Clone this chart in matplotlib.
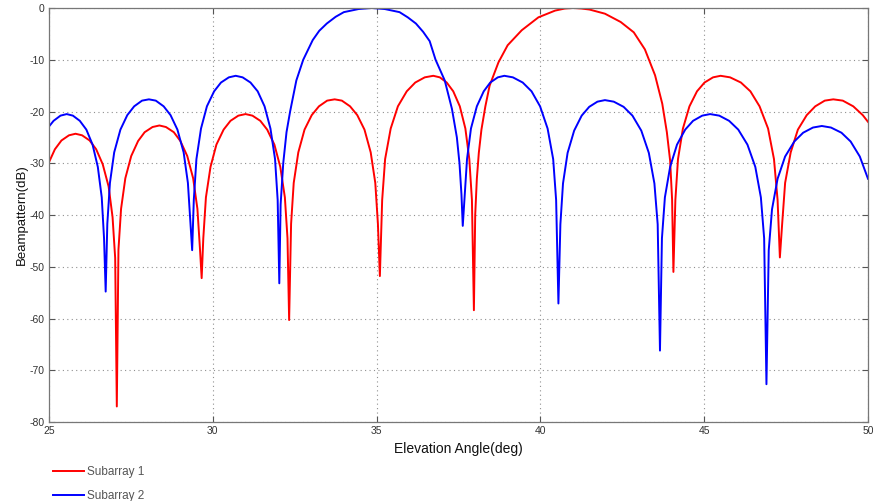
import matplotlib
matplotlib.use("Agg")
import matplotlib.pyplot as plt

plt.rcParams['font.family'] = ['Liberation Sans', 'DejaVu Sans']

# ---- data ----
sub1_angle = [
    25.00, 25.18, 25.38, 25.61, 25.81, 26.01, 26.24, 26.44, 26.64, 26.82, 26.94, 27.02, 27.07,
    27.12, 27.20, 27.33, 27.51, 27.72, 27.92, 28.16, 28.37, 28.57, 28.81, 29.01, 29.22, 29.40, 29.53, 29.61, 29.66,
    29.71, 29.79, 29.93, 30.11, 30.33, 30.54, 30.78, 31.00, 31.21, 31.45, 31.66, 31.88, 32.06, 32.20, 32.28, 32.33,
    32.39, 32.47, 32.61, 32.80, 33.02, 33.24, 33.49, 33.72, 33.94, 34.19, 34.41, 34.63, 34.82, 34.96, 35.04, 35.10,
    35.17, 35.26, 35.43, 35.65, 35.92, 36.18, 36.47, 36.73, 36.93, 37.14, 37.34, 37.54, 37.71, 37.83, 37.91, 37.97,
    38.01, 38.06, 38.12, 38.20, 38.32, 38.45, 38.72, 39.00, 39.43, 39.94, 40.45, 40.75, 41.00, 41.25, 41.50, 41.97,
    42.45, 42.85, 43.19, 43.50, 43.72, 43.86, 43.96, 44.02, 44.06,
    44.12, 44.20, 44.35, 44.55, 44.78, 45.01, 45.27, 45.50, 45.79, 46.12, 46.41, 46.69, 46.95, 47.13, 47.24, 47.31,
    47.38, 47.47, 47.64, 47.86, 48.13, 48.39, 48.68, 48.94, 49.23, 49.55, 49.84, 50.00,
]
sub1_db = [
    -29.8, -27.3, -25.6, -24.6, -24.3, -24.6, -25.6, -27.3, -30.2, -34.5, -40.4, -48.3, -77.0,
    -46.7, -38.8, -32.9, -28.6, -25.7, -24.0, -23.0, -22.7, -23.0, -24.0, -25.7, -28.6, -32.9, -38.8, -46.7, -52.2,
    -44.5, -36.6, -30.7, -26.4, -23.5, -21.8, -20.8, -20.5, -20.8, -21.8, -23.5, -26.4, -30.7, -36.6, -44.5, -60.3,
    -41.7, -33.8, -27.9, -23.5, -20.7, -19.0, -17.9, -17.65, -17.9, -19.0, -20.7, -23.5, -27.9, -33.8, -41.7, -51.8,
    -37.1, -29.2, -23.3, -19.0, -16.1, -14.4, -13.4, -13.1, -13.4, -14.4, -16.1, -19.0, -23.3, -29.2, -37.1, -58.4,
    -40.0, -33.0, -28.0, -23.5, -19.0, -15.0, -10.5, -7.2, -4.3, -1.8, -0.5, -0.1, 0.0, -0.1, -0.3, -1.1,
    -2.7, -4.7, -8.0, -13.0, -18.5, -24.0, -29.5, -37.0, -51.0,
    -37.1, -29.2, -23.3, -19.0, -16.1, -14.4, -13.4, -13.1, -13.4, -14.4, -16.1, -19.0, -23.3, -29.2, -37.1, -48.2,
    -41.7, -33.8, -27.9, -23.5, -20.7, -19.0, -17.9, -17.65, -17.9, -19.0, -20.7, -22.0,
]

sub2_angle = [
    25.00, 25.14, 25.35, 25.54, 25.73, 25.94, 26.14, 26.33, 26.49, 26.61, 26.68, 26.73,
    26.78, 26.86, 26.99, 27.18, 27.39, 27.60, 27.84, 28.05, 28.26, 28.50, 28.71, 28.92, 29.11, 29.24, 29.32, 29.37,
    29.42, 29.50, 29.64, 29.82, 30.04, 30.25, 30.49, 30.70, 30.91, 31.15, 31.37, 31.58, 31.76, 31.90, 31.98, 32.03,
    32.07, 32.15, 32.25, 32.36, 32.55, 32.76, 33.05, 33.25, 33.48, 33.75, 34.00, 34.45, 34.85, 35.25, 35.70, 35.95,
    36.20, 36.42, 36.62, 36.80, 37.08, 37.30, 37.45, 37.53, 37.59, 37.63,
    37.68, 37.76, 37.88, 38.06, 38.27, 38.47, 38.70, 38.90, 39.16, 39.46, 39.73, 39.99, 40.22, 40.39, 40.48, 40.55,
    40.61, 40.69, 40.83, 41.03, 41.26, 41.49, 41.74, 41.97, 42.24, 42.54, 42.81, 43.08, 43.31, 43.48, 43.58, 43.65,
    43.71, 43.80, 43.96, 44.17, 44.42, 44.66, 44.94, 45.18, 45.46, 45.76, 46.04, 46.32, 46.56, 46.73, 46.83, 46.90,
    46.97, 47.07, 47.24, 47.47, 47.75, 48.02, 48.32, 48.59, 48.87, 49.19, 49.47, 49.75, 50.00,
]
sub2_db = [
    -22.9, -21.8, -20.8, -20.5, -20.8, -21.8, -23.5, -26.4, -30.7, -36.6, -44.5, -54.8,
    -41.7, -33.8, -27.9, -23.5, -20.7, -19.0, -17.9, -17.65, -17.9, -19.0, -20.7, -23.5, -27.9, -33.8, -41.7, -46.8,
    -37.1, -29.2, -23.3, -19.0, -16.1, -14.4, -13.4, -13.1, -13.4, -14.4, -16.1, -19.0, -23.3, -29.2, -37.1, -53.2,
    -38.0, -30.0, -24.0, -20.0, -14.0, -10.0, -6.2, -4.4, -3.0, -1.7, -0.8, -0.2, 0.0, -0.2, -0.8, -1.8,
    -3.0, -4.6, -6.4, -10.0, -14.0, -19.5, -25.0, -30.0, -36.0, -42.1,
    -37.1, -29.2, -23.3, -19.0, -16.1, -14.4, -13.4, -13.1, -13.4, -14.4, -16.1, -19.0, -23.3, -29.2, -37.1, -57.1,
    -41.8, -33.9, -28.0, -23.7, -20.8, -19.1, -18.1, -17.8, -18.1, -19.1, -20.8, -23.7, -28.0, -33.9, -41.8, -66.2,
    -44.5, -36.6, -30.7, -26.4, -23.5, -21.8, -20.8, -20.5, -20.8, -21.8, -23.5, -26.4, -30.7, -36.6, -44.5, -72.7,
    -46.8, -38.9, -33.0, -28.7, -25.8, -24.1, -23.1, -22.8, -23.1, -24.1, -25.8, -28.7, -33.0,
]

series_labels = ['Subarray 1', 'Subarray 2']
x_ticks = [25, 30, 35, 40, 45, 50]
y_ticks = [0, -10, -20, -30, -40, -50, -60, -70, -80]

# ---- figure ----
fig = plt.figure(figsize=(8.73, 5.01), dpi=100)
ax = fig.add_axes([49/873, 1-422/501, (868-49)/873, (422-8)/501])

l1, = ax.plot(sub1_angle, sub1_db, color='#ff0000', lw=1.4, label=series_labels[0])
l2, = ax.plot(sub2_angle, sub2_db, color='#0000ff', lw=1.4, label=series_labels[1])

ax.set_xlim(25, 50)
ax.set_ylim(-80, 0)
ax.set_xticks(x_ticks)
ax.set_yticks(y_ticks)
ax.set_xticklabels([str(v) for v in x_ticks])
ax.set_yticklabels([str(v) for v in y_ticks])
ax.grid(True, linestyle=(0, (1, 3)), color='#909090', linewidth=0.8)
ax.tick_params(direction='in', top=True, right=True, length=4, width=0.8,
               color='#555555', labelsize=7.5, labelcolor='#333333', pad=3)
for s in ax.spines.values():
    s.set_color('#777777')
    s.set_linewidth(0.9)

ax.set_xlabel('Elevation Angle(deg)', fontsize=10, color='#111111', labelpad=4)
ax.set_ylabel('Beampattern(dB)', fontsize=9.5, color='#111111', labelpad=1)

fig.legend(handles=[l1, l2], labels=series_labels, loc='upper left',
           bbox_to_anchor=(53/873, 1-466/501), frameon=False, fontsize=8.5,
           handlelength=2.6, handletextpad=0.25, labelspacing=1.0,
           borderaxespad=0, borderpad=0, labelcolor='#555555')

fig.savefig('out.png', dpi=100)
